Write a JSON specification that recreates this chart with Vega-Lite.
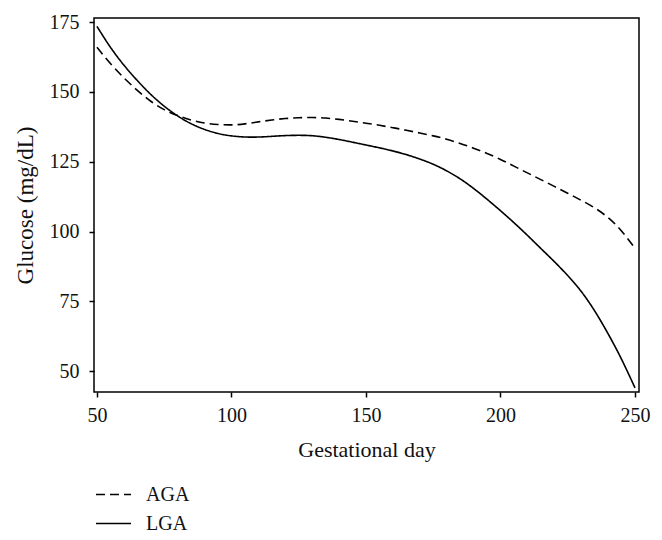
{
  "$schema": "https://vega.github.io/schema/vega-lite/v6.json",
  "width": 545,
  "height": 374,
  "autosize": "none",
  "padding": {"left": 94, "top": 18, "right": 23, "bottom": 148},
  "background": "white",
  "config": {
    "font": "Liberation Serif",
    "view": {"stroke": "black", "strokeWidth": 1.5},
    "axis": {"labelFont": "Liberation Serif", "titleFont": "Liberation Serif", "labelFontSize": 20, "titleFontSize": 22, "titleFontWeight": "normal", "labelColor": "#111", "titleColor": "#111", "tickColor": "black", "tickWidth": 1.5, "tickSize": 5, "grid": false, "domain": false},
    "legend": {"labelFont": "Liberation Serif", "labelFontSize": 20, "labelColor": "#111"}
  },
  "data": {"values": [
    {"day": 50, "g": 166, "group": "AGA"}, {"day": 55, "g": 160, "group": "AGA"}, {"day": 60, "g": 155, "group": "AGA"}, {"day": 65, "g": 150.5, "group": "AGA"}, {"day": 70, "g": 146.5, "group": "AGA"}, {"day": 75, "g": 143.5, "group": "AGA"}, {"day": 80, "g": 141.5, "group": "AGA"}, {"day": 85, "g": 139.8, "group": "AGA"}, {"day": 90, "g": 138.8, "group": "AGA"}, {"day": 95, "g": 138.3, "group": "AGA"}, {"day": 100, "g": 138.1, "group": "AGA"}, {"day": 105, "g": 138.5, "group": "AGA"}, {"day": 110, "g": 139.3, "group": "AGA"}, {"day": 115, "g": 140, "group": "AGA"}, {"day": 120, "g": 140.5, "group": "AGA"}, {"day": 125, "g": 140.8, "group": "AGA"}, {"day": 130, "g": 140.9, "group": "AGA"}, {"day": 135, "g": 140.7, "group": "AGA"}, {"day": 140, "g": 140.2, "group": "AGA"}, {"day": 145, "g": 139.5, "group": "AGA"}, {"day": 150, "g": 138.8, "group": "AGA"}, {"day": 155, "g": 138.1, "group": "AGA"}, {"day": 160, "g": 137.2, "group": "AGA"}, {"day": 165, "g": 136.3, "group": "AGA"}, {"day": 170, "g": 135.3, "group": "AGA"}, {"day": 175, "g": 134.3, "group": "AGA"}, {"day": 180, "g": 133.1, "group": "AGA"}, {"day": 185, "g": 131.6, "group": "AGA"}, {"day": 190, "g": 129.9, "group": "AGA"}, {"day": 195, "g": 128, "group": "AGA"}, {"day": 200, "g": 125.9, "group": "AGA"}, {"day": 205, "g": 123.4, "group": "AGA"}, {"day": 210, "g": 121, "group": "AGA"}, {"day": 215, "g": 118.6, "group": "AGA"}, {"day": 220, "g": 116.2, "group": "AGA"}, {"day": 225, "g": 113.7, "group": "AGA"}, {"day": 230, "g": 111.2, "group": "AGA"}, {"day": 235, "g": 108.6, "group": "AGA"}, {"day": 240, "g": 105.2, "group": "AGA"}, {"day": 245, "g": 100.5, "group": "AGA"}, {"day": 250, "g": 94, "group": "AGA"},
    {"day": 50, "g": 173.5, "group": "LGA"}, {"day": 55, "g": 165.8, "group": "LGA"}, {"day": 60, "g": 159.5, "group": "LGA"}, {"day": 65, "g": 154, "group": "LGA"}, {"day": 70, "g": 149, "group": "LGA"}, {"day": 75, "g": 144.8, "group": "LGA"}, {"day": 80, "g": 141.3, "group": "LGA"}, {"day": 85, "g": 138.5, "group": "LGA"}, {"day": 90, "g": 136.5, "group": "LGA"}, {"day": 95, "g": 135, "group": "LGA"}, {"day": 100, "g": 134.2, "group": "LGA"}, {"day": 105, "g": 133.8, "group": "LGA"}, {"day": 110, "g": 133.8, "group": "LGA"}, {"day": 115, "g": 134.1, "group": "LGA"}, {"day": 120, "g": 134.4, "group": "LGA"}, {"day": 125, "g": 134.5, "group": "LGA"}, {"day": 130, "g": 134.4, "group": "LGA"}, {"day": 135, "g": 133.8, "group": "LGA"}, {"day": 140, "g": 133, "group": "LGA"}, {"day": 145, "g": 132, "group": "LGA"}, {"day": 150, "g": 131, "group": "LGA"}, {"day": 155, "g": 130, "group": "LGA"}, {"day": 160, "g": 128.9, "group": "LGA"}, {"day": 165, "g": 127.6, "group": "LGA"}, {"day": 170, "g": 126, "group": "LGA"}, {"day": 175, "g": 124.2, "group": "LGA"}, {"day": 180, "g": 121.8, "group": "LGA"}, {"day": 185, "g": 119, "group": "LGA"}, {"day": 190, "g": 115.5, "group": "LGA"}, {"day": 195, "g": 111.6, "group": "LGA"}, {"day": 200, "g": 107.5, "group": "LGA"}, {"day": 205, "g": 103.2, "group": "LGA"}, {"day": 210, "g": 98.7, "group": "LGA"}, {"day": 215, "g": 93.9, "group": "LGA"}, {"day": 220, "g": 89.3, "group": "LGA"}, {"day": 225, "g": 84.3, "group": "LGA"}, {"day": 230, "g": 78.8, "group": "LGA"}, {"day": 235, "g": 71.8, "group": "LGA"}, {"day": 240, "g": 63.5, "group": "LGA"}, {"day": 245, "g": 54.5, "group": "LGA"}, {"day": 250, "g": 44, "group": "LGA"}
  ]},
  "mark": {"type": "line", "interpolate": "basis", "color": "black", "strokeWidth": 1.6},
  "encoding": {
    "x": {"field": "day", "type": "quantitative", "title": "Gestational day",
      "scale": {"domain": [48.9, 251.5], "nice": false, "zero": false},
      "axis": {"values": [50, 100, 150, 200, 250], "labelPadding": 8, "titlePadding": 14}},
    "y": {"field": "g", "type": "quantitative", "title": "Glucose (mg/dL)",
      "scale": {"domain": [42.5, 176.5], "nice": false, "zero": false},
      "axis": {"values": [50, 75, 100, 125, 150, 175], "labelPadding": 10, "titlePadding": 12, "titleFontSize": 23}},
    "strokeDash": {"field": "group", "type": "nominal",
      "scale": {"domain": ["AGA", "LGA"], "range": [[9, 5], [1, 0]]},
      "legend": {"title": null, "orient": "none", "legendX": 1, "legendY": 458, "symbolType": "stroke", "symbolSize": 1225, "symbolStrokeColor": "black", "symbolStrokeWidth": 1.5, "labelOffset": 14, "rowPadding": -7, "padding": 0}}
  }
}
